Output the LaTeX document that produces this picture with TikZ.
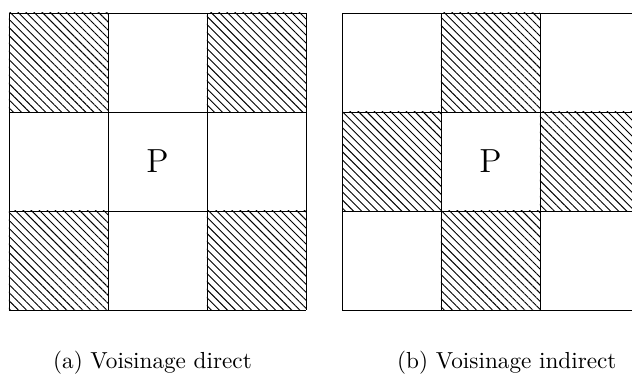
\documentclass[tikz,border=0pt]{standalone}
\usetikzlibrary{patterns.meta}
\begin{document}
\begin{tikzpicture}[hatched/.style={pattern={Lines[angle=-45,distance=2.45pt,line width=0.4pt]}}]
		\useasboundingbox (0,0) rectangle (9.576,5.758);
		\clip (0,0) rectangle (9.576,5.758);
		\coordinate (Ga) at (0.136,1.061);  % coin bas gauche, grille (a)
		\coordinate (Gb) at (5.182,1.061);  % coin bas gauche, grille (b)
		% grille (a) : coins hachures
		\begin{scope}[shift={(Ga)}]
			\foreach \i/\j in {0/0,2/0,0/2,2/2} \fill[hatched] (1.5*\i,1.5*\j) rectangle +(1.5,1.5);
			\draw (0,0) grid[step=1.5] (4.5,4.5);
			\node[font=\Large] (Pa) at (2.25,2.25) {P};
		\end{scope}
		% grille (b) : aretes hachurees
		\begin{scope}[shift={(Gb)}]
			\foreach \i/\j in {1/0,0/1,2/1,1/2} \fill[hatched] (1.5*\i,1.5*\j) rectangle +(1.5,1.5);
			\draw (0,0) grid[step=1.5] (4.5,4.5);
			\node[font=\Large] (Pb) at (2.25,2.25) {P};
		\end{scope}
		% legendes
		\node[anchor=base] (La) at (2.31,0.182) {(a) Voisinage direct};
		\node[anchor=base] (Lb) at (7.68,0.182) {(b) Voisinage indirect};
	\end{tikzpicture}
\end{document}
